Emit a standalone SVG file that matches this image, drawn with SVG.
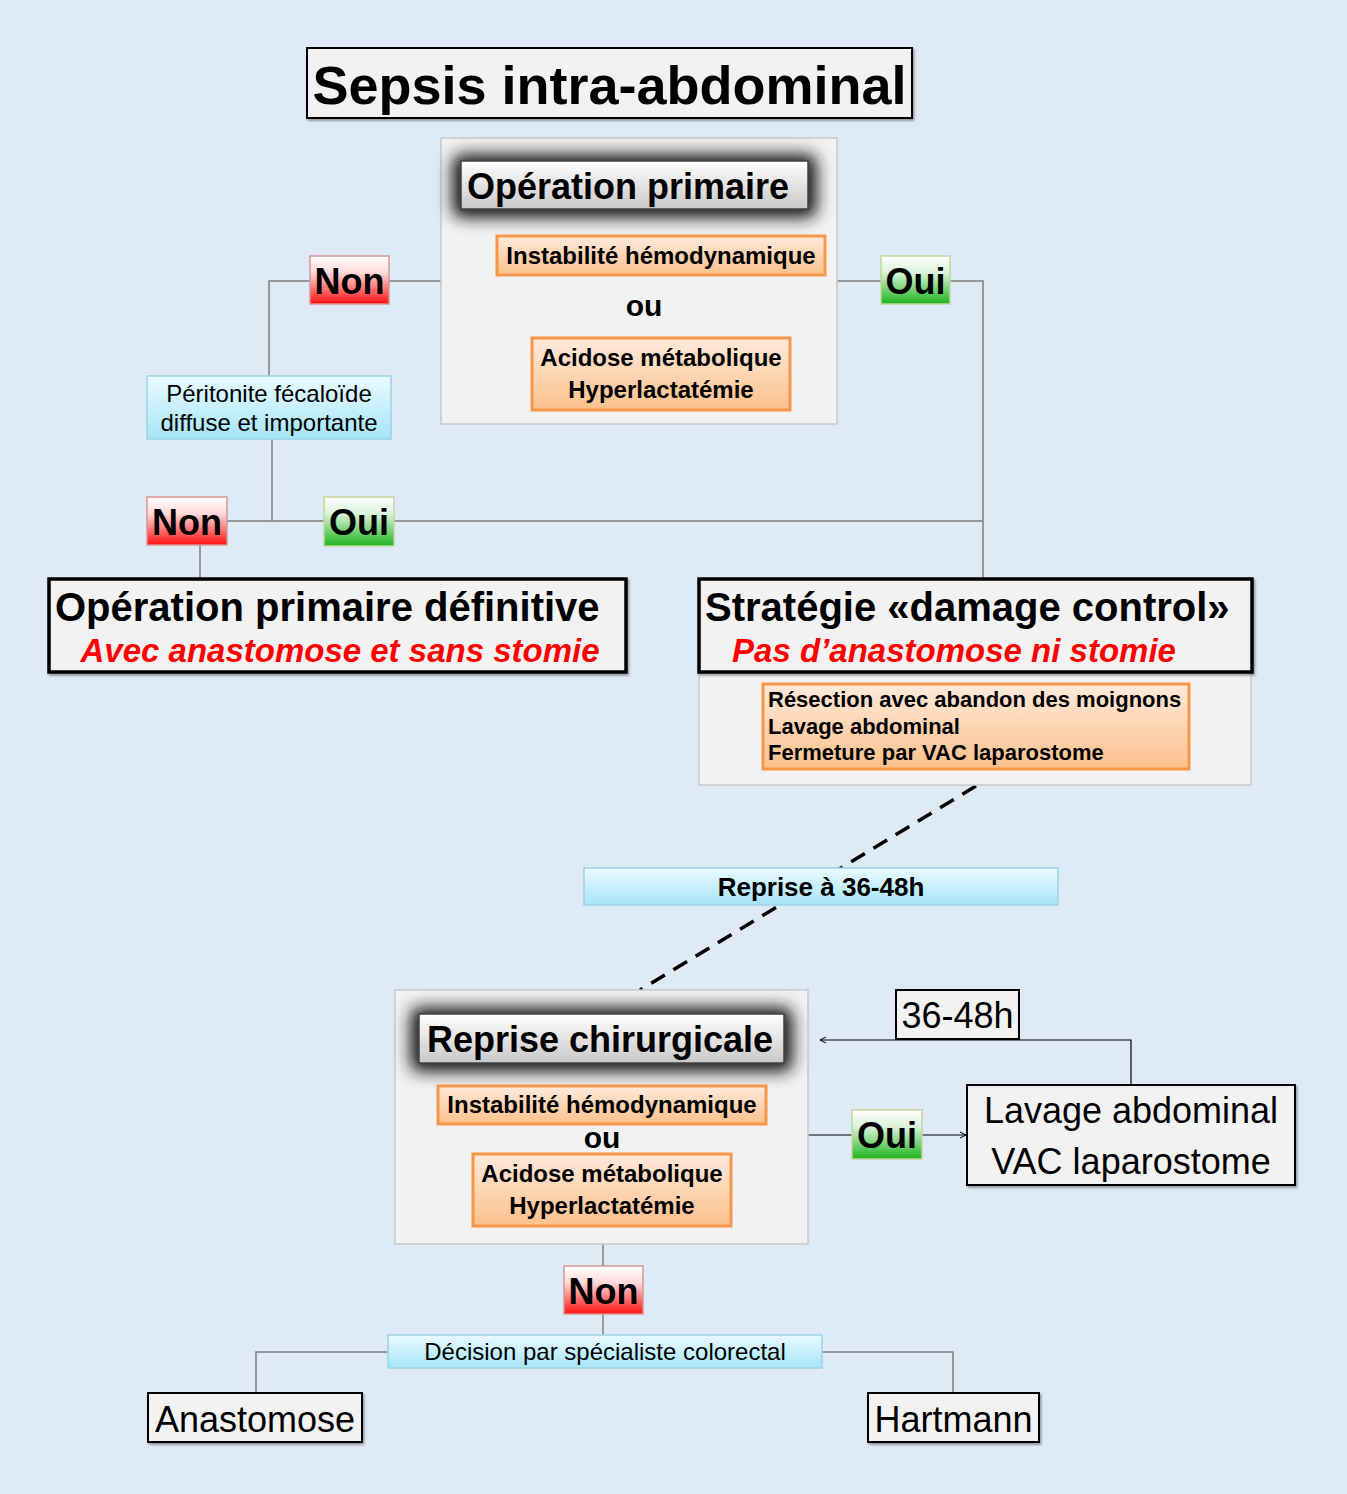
<svg xmlns="http://www.w3.org/2000/svg" width="1347" height="1494" viewBox="0 0 1347 1494">
<defs>
<linearGradient id="gOr" x1="0" y1="0" x2="0" y2="1"><stop offset="0" stop-color="#feeadb"/><stop offset="1" stop-color="#fcc08c"/></linearGradient>
<linearGradient id="gRed" x1="0" y1="0" x2="0" y2="1"><stop offset="0" stop-color="#ffffff"/><stop offset="0.35" stop-color="#ffd9d9"/><stop offset="1" stop-color="#ff1010"/></linearGradient>
<linearGradient id="gGreen" x1="0" y1="0" x2="0" y2="1"><stop offset="0" stop-color="#ffffff"/><stop offset="0.35" stop-color="#d9f2d9"/><stop offset="1" stop-color="#1db41d"/></linearGradient>
<linearGradient id="gCyan" x1="0" y1="0" x2="0" y2="1"><stop offset="0" stop-color="#eafaff"/><stop offset="1" stop-color="#a5e5f9"/></linearGradient>
<linearGradient id="gHead" x1="0" y1="0" x2="0" y2="1"><stop offset="0" stop-color="#ffffff"/><stop offset="1" stop-color="#c8c8c8"/></linearGradient>
<filter id="glow" x="-20%" y="-80%" width="140%" height="260%"><feGaussianBlur stdDeviation="8"/></filter>
<filter id="drop" x="-5%" y="-10%" width="110%" height="130%"><feDropShadow dx="1.5" dy="2" stdDeviation="1.2" flood-color="#000" flood-opacity="0.35"/></filter>
<marker id="arr" markerWidth="8" markerHeight="8" refX="7" refY="4" orient="auto" markerUnits="userSpaceOnUse"><path d="M1,1 L7,4 L1,7" fill="none" stroke="#000" stroke-width="1"/></marker>
</defs>
<style>
.b{font-family:"Liberation Sans",Arial,sans-serif;font-weight:bold;fill:#000}
.r{font-family:"Liberation Sans",Arial,sans-serif;font-weight:normal;fill:#000}
.red{font-family:"Liberation Sans",Arial,sans-serif;font-weight:bold;font-style:italic;fill:#ff0000}
.cont{fill:#f2f2f2;stroke:#c9c9c9;stroke-width:1.5}
.or{fill:url(#gOr);stroke:#f79646;stroke-width:3}
.non{fill:url(#gRed);stroke:#d99594;stroke-width:1.5}
.oui{fill:url(#gGreen);stroke:#c3d69b;stroke-width:1.5}
.cy{fill:url(#gCyan);stroke:#9cd3e4;stroke-width:1.5}
.head{fill:url(#gHead);stroke:#404040;stroke-width:1.5}
.box{fill:#f2f2f2;stroke:#000;stroke-width:2}
.big{fill:#f2f2f2;stroke:#000;stroke-width:3.5}
.ln{fill:none;stroke:#7f7f7f;stroke-width:1.5}
.lk{fill:none;stroke:#000;stroke-width:1.2}
.dash{fill:none;stroke:#000;stroke-width:3.5;stroke-dasharray:16,10}
</style>
<rect width="1347" height="1494" fill="#deebf7"/>

<g id="connectors">
<polyline class="ln" points="389,281 441,281"/>
<polyline class="ln" points="310,281 269,281 269,376"/>
<polyline class="ln" points="837,281 881,281"/>
<polyline class="ln" points="950,281 983,281 983,578"/>
<polyline class="ln" points="272,439 272,521"/>
<polyline class="ln" points="227,521 324,521"/>
<polyline class="ln" points="394,521 983,521"/>
<polyline class="ln" points="200,545 200,579"/>
<line class="dash" x1="976" y1="786" x2="640" y2="990"/>
<polyline class="lk" points="808,1135 852,1135"/>
<polyline class="lk" points="922,1135 966,1135" marker-end="url(#arr)"/>
<polyline class="lk" points="1131,1085 1131,1040 820,1040" marker-end="url(#arr)"/>
<polyline class="ln" points="603,1244 603,1266"/>
<polyline class="ln" points="603,1314 603,1335"/>
<polyline class="ln" points="388,1352 256,1352 256,1393"/>
<polyline class="ln" points="822,1352 953,1352 953,1393"/>
</g>

<g id="title">
<rect class="box" x="307" y="48" width="605" height="70" filter="url(#drop)"/>
<text class="b" x="609.5" y="104" font-size="54" text-anchor="middle">Sepsis intra-abdominal</text>
</g>

<g id="operation-primaire">
<rect class="cont" x="441" y="138" width="396" height="286"/>
<rect x="452" y="154" width="365" height="64" rx="10" fill="#1a1a1a" filter="url(#glow)"/>
<rect class="head" x="461" y="161" width="347" height="48"/>
<text class="b" x="467" y="199" font-size="36">Opération primaire</text>
<rect class="or" x="497" y="236" width="328" height="39"/>
<text class="b" x="661" y="264" font-size="24" text-anchor="middle">Instabilité hémodynamique</text>
<text class="b" x="644" y="316" font-size="30" text-anchor="middle">ou</text>
<rect class="or" x="532" y="338" width="258" height="72"/>
<text class="b" x="661" y="366" font-size="24" text-anchor="middle">Acidose métabolique</text>
<text class="b" x="661" y="398" font-size="24" text-anchor="middle">Hyperlactatémie</text>
</g>

<g id="non1">
<rect class="non" x="310" y="256" width="79" height="48"/>
<text class="b" x="349.5" y="294" font-size="36" text-anchor="middle">Non</text>
</g>
<g id="oui1">
<rect class="oui" x="881" y="256" width="69" height="48"/>
<text class="b" x="915.5" y="294" font-size="36" text-anchor="middle">Oui</text>
</g>

<g id="peritonite">
<rect class="cy" x="147" y="376" width="244" height="63"/>
<text class="r" x="269" y="402" font-size="24" text-anchor="middle">Péritonite fécaloïde</text>
<text class="r" x="269" y="431" font-size="24" text-anchor="middle">diffuse et importante</text>
</g>

<g id="non2">
<rect class="non" x="147" y="497" width="80" height="48"/>
<text class="b" x="187" y="535" font-size="36" text-anchor="middle">Non</text>
</g>
<g id="oui2">
<rect class="oui" x="324" y="497" width="70" height="49"/>
<text class="b" x="359" y="535" font-size="36" text-anchor="middle">Oui</text>
</g>

<g id="definitive">
<rect class="big" x="49" y="579" width="577" height="93" filter="url(#drop)"/>
<text class="b" x="55" y="621" font-size="40">Opération primaire définitive</text>
<text class="red" x="340" y="662" font-size="33" text-anchor="middle">Avec anastomose et sans stomie</text>
</g>

<g id="damage-control">
<rect class="cont" x="699" y="672" width="552" height="113"/>
<rect class="big" x="699" y="579" width="553" height="93" filter="url(#drop)"/>
<text class="b" x="705" y="621" font-size="40">Stratégie «damage control»</text>
<text class="red" x="954" y="662" font-size="33" text-anchor="middle">Pas d’anastomose ni stomie</text>
<rect class="or" x="763" y="684" width="426" height="85"/>
<text class="b" x="768" y="707" font-size="22">Résection avec abandon des moignons</text>
<text class="b" x="768" y="734" font-size="22">Lavage abdominal</text>
<text class="b" x="768" y="760" font-size="22">Fermeture par VAC laparostome</text>
</g>

<g id="reprise-label">
<rect class="cy" x="584" y="868" width="474" height="37"/>
<text class="b" x="821" y="896" font-size="26" text-anchor="middle">Reprise à 36-48h</text>
</g>

<g id="reprise-chirurgicale">
<rect class="cont" x="395" y="990" width="413" height="254"/>
<rect x="410" y="1007" width="383" height="65" rx="10" fill="#1a1a1a" filter="url(#glow)"/>
<rect class="head" x="419" y="1014" width="365" height="49"/>
<text class="b" x="600" y="1052" font-size="36" text-anchor="middle">Reprise chirurgicale</text>
<rect class="or" x="438" y="1086" width="328" height="38"/>
<text class="b" x="602" y="1113" font-size="24" text-anchor="middle">Instabilité hémodynamique</text>
<text class="b" x="602" y="1148" font-size="30" text-anchor="middle">ou</text>
<rect class="or" x="473" y="1154" width="258" height="72"/>
<text class="b" x="602" y="1182" font-size="24" text-anchor="middle">Acidose métabolique</text>
<text class="b" x="602" y="1214" font-size="24" text-anchor="middle">Hyperlactatémie</text>
</g>

<g id="oui3">
<rect class="oui" x="852" y="1110" width="70" height="49"/>
<text class="b" x="887" y="1148" font-size="36" text-anchor="middle">Oui</text>
</g>

<g id="lavage">
<rect class="box" x="967" y="1085" width="328" height="100" filter="url(#drop)"/>
<text class="r" x="1131" y="1123" font-size="36" text-anchor="middle">Lavage abdominal</text>
<text class="r" x="1131" y="1174" font-size="36" text-anchor="middle">VAC laparostome</text>
</g>

<g id="delay-label">
<rect class="box" x="896" y="990" width="123" height="49"/>
<text class="r" x="957.5" y="1028" font-size="36" text-anchor="middle">36-48h</text>
</g>

<g id="non3">
<rect class="non" x="564" y="1266" width="79" height="48"/>
<text class="b" x="603.5" y="1304" font-size="36" text-anchor="middle">Non</text>
</g>

<g id="decision">
<rect class="cy" x="388" y="1335" width="434" height="33"/>
<text class="r" x="605" y="1360" font-size="24" text-anchor="middle">Décision par spécialiste colorectal</text>
</g>

<g id="anastomose">
<rect class="box" x="148" y="1393" width="214" height="49" filter="url(#drop)"/>
<text class="r" x="255" y="1432" font-size="36" text-anchor="middle">Anastomose</text>
</g>

<g id="hartmann">
<rect class="box" x="868" y="1393" width="171" height="49" filter="url(#drop)"/>
<text class="r" x="953.5" y="1432" font-size="36" text-anchor="middle">Hartmann</text>
</g>
</svg>
